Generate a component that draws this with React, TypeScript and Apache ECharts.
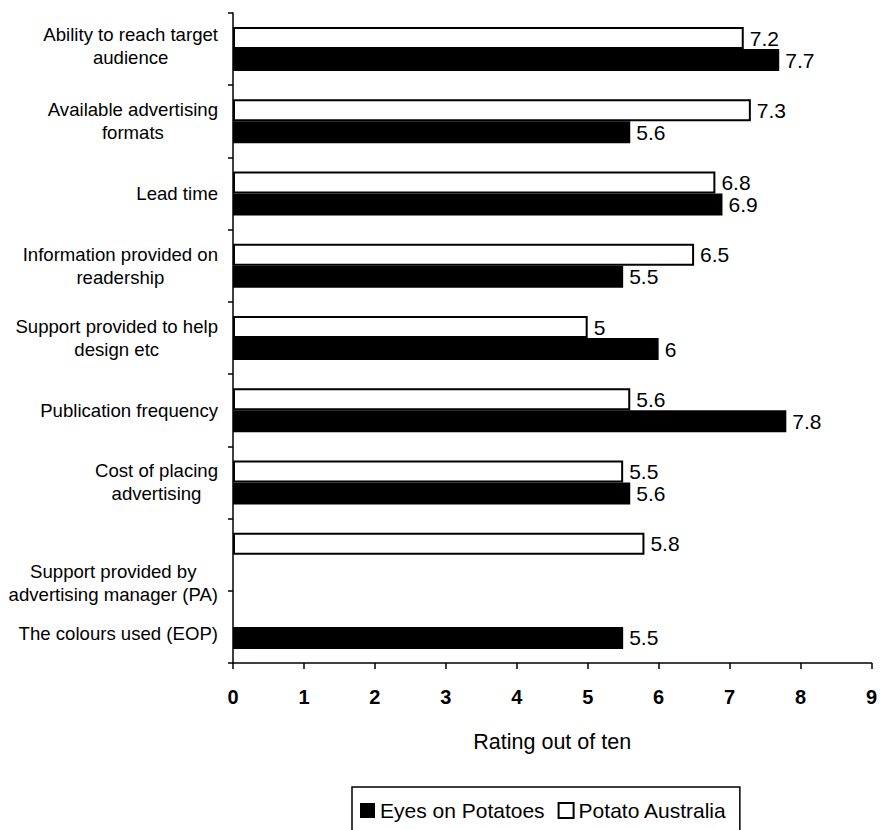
import React, { useEffect, useRef } from "react";
import * as echarts from "echarts";

// Rating categories, top to bottom
const categories = [
  "Ability to reach target\naudience",
  "Available advertising\nformats",
  "Lead time",
  "Information provided on\nreadership",
  "Support provided to help\ndesign etc",
  "Publication frequency",
  "Cost of placing\nadvertising",
  "Support provided by\nadvertising manager (PA)",
  "The colours used (EOP)",
];

// Average ratings (out of ten); null where a publication was not rated
const eyesOnPotatoes = [7.7, 5.6, 6.9, 5.5, 6, 7.8, 5.6, null, 5.5];
const potatoAustralia = [7.2, 7.3, 6.8, 6.5, 5, 5.6, 5.5, 5.8, null];

const seriesNames = ["Eyes on Potatoes", "Potato Australia"];
const axisTitle = "Rating out of ten";

const FONT = "'Liberation Sans', Arial, sans-serif";

export default function App() {
  const ref = useRef<HTMLDivElement>(null);

  useEffect(() => {
    if (!ref.current) return;
    const chart = echarts.init(ref.current, undefined, { renderer: "svg" });

    // vertical nudges for a few of the category labels
    const labelPadding: Record<number, number[]> = {
      0: [0, 0, 7, 0],
      7: [56, 0, 0, 0],
      8: [14, 0, 0, 0],
    };

    const valueLabel = {
      show: true,
      position: "right" as const,
      distance: 6,
      color: "#000",
      fontSize: 21,
      fontFamily: FONT,
    };

    chart.setOption({
      animation: false,
      backgroundColor: "#fff",
      textStyle: { fontFamily: FONT, color: "#000" },
      grid: { left: 233, right: 8, top: 13, bottom: 167, containLabel: false },
      legend: {
        data: seriesNames,
        left: 352,
        top: 787,
        orient: "horizontal",
        icon: "rect",
        itemWidth: 15,
        itemHeight: 15,
        itemGap: 13,
        padding: [13, 13, 30, 8],
        borderColor: "#000",
        borderWidth: 1.5,
        textStyle: { fontSize: 21, color: "#000", fontFamily: FONT },
      },
      xAxis: {
        type: "value",
        min: 0,
        max: 9,
        interval: 1,
        name: axisTitle,
        nameLocation: "middle",
        nameGap: 68,
        nameTextStyle: { fontSize: 21.5, color: "#000", fontFamily: FONT },
        axisLine: { show: true, lineStyle: { color: "#000", width: 1.5 } },
        axisTick: { show: true, length: 6, lineStyle: { color: "#000", width: 1.5 } },
        axisLabel: {
          margin: 24,
          fontSize: 20,
          fontWeight: "bold",
          color: "#000",
          fontFamily: FONT,
        },
        splitLine: { show: false },
      },
      yAxis: {
        type: "category",
        inverse: true,
        data: categories.map((c, i) =>
          labelPadding[i] ? { value: c, textStyle: { padding: labelPadding[i] } } : c
        ),
        axisLine: { show: true, lineStyle: { color: "#000", width: 1.5 } },
        axisTick: { show: true, length: 5, lineStyle: { color: "#000", width: 1.5 } },
        axisLabel: {
          margin: 15,
          color: "#000",
          fontSize: 18.6,
          fontFamily: FONT,
          align: "right",
          formatter: (v: string) =>
            v
              .split("\n")
              .map((line) => `{c|${line}}`)
              .join("\n"),
          rich: {
            c: {
              align: "center",
              fontSize: 18.6,
              lineHeight: 23,
              color: "#000",
              fontFamily: FONT,
            },
          },
        },
      },
      series: [
        {
          name: seriesNames[1],
          type: "bar",
          data: potatoAustralia,
          barWidth: 22,
          barGap: "0%",
          itemStyle: { color: "#fff", borderColor: "#000", borderWidth: 2 },
          label: valueLabel,
        },
        {
          name: seriesNames[0],
          type: "bar",
          data: eyesOnPotatoes,
          barWidth: 22,
          barGap: "0%",
          itemStyle: { color: "#000" },
          label: valueLabel,
        },
      ],
    });

    return () => chart.dispose();
  }, []);

  return (
    <div
      ref={ref}
      style={{ position: "absolute", left: 0, top: 0, width: 880, height: 830 }}
    />
  );
}
